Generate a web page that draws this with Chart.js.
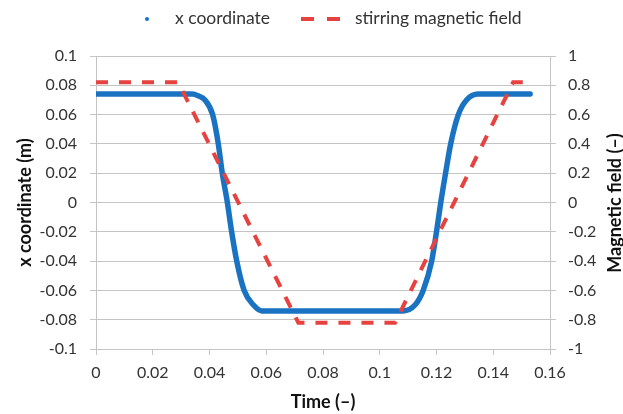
<!DOCTYPE html>
<html>
<head>
<meta charset="utf-8">
<script src="https://cdn.jsdelivr.net/npm/chart.js@4"></script>
<style>
  html, body { margin: 0; padding: 0; background: #fff; }
  #wrap { width: 623px; height: 414px; }
</style>
</head>
<body>
<div id="wrap"><canvas id="c" width="623" height="414"></canvas></div>
<script>
// ---- data ----
const seriesLabels = ['x coordinate', 'stirring magnetic field'];

// x coordinate (m) vs time
const posTime = [0, 0.034, 0.036, 0.0384, 0.0411, 0.0431, 0.0445, 0.0463, 0.0478, 0.0496, 0.0522, 0.0555, 0.0584,
                 0.1083, 0.1124, 0.1153, 0.1183, 0.1200, 0.1215, 0.1232, 0.1250, 0.1277, 0.1306, 0.1347, 0.153];
const posValue = [0.074, 0.074, 0.0728, 0.070, 0.060, 0.040, 0.020, 0.000, -0.020, -0.040, -0.060, -0.070, -0.074,
                  -0.074, -0.070, -0.060, -0.040, -0.020, 0.000, 0.020, 0.040, 0.060, 0.070, 0.074, 0.074];

// stirring magnetic field (-) vs time
const fieldTime = [0, 0.029, 0.0713, 0.1054, 0.147, 0.153];
const fieldValue = [0.82, 0.82, -0.82, -0.82, 0.82, 0.82];

// axis ranges / ticks
const xTicks = [0, 0.16, 0.02];
const yLeftTicks = [-0.1, 0.1, 0.02];
const yRightTicks = [-1, 1, 0.2];

const axisTitles = { x: 'Time (–)', yLeft: 'x coordinate (m)', yRight: 'Magnetic field (–)' };

const BLUE = '#1a73c2';
const RED = '#e6423f';
const TEXT = '#333333';
const GRID = '#c4c4c4';
const FONT = 'Lato, "Open Sans", sans-serif';

const toXY = (xs, ys) => xs.map((x, i) => ({ x: x, y: ys[i] }));

const legendPlugin = {
  id: 'customLegend',
  afterDraw(chart) {
    const ctx = chart.ctx;
    ctx.save();
    ctx.font = '17.5px ' + FONT;
    ctx.textBaseline = 'middle';
    ctx.textAlign = 'left';
    const y = 18;
    // blue dot
    ctx.beginPath();
    ctx.arc(147, y + 1, 2, 0, Math.PI * 2);
    ctx.fillStyle = BLUE;
    ctx.fill();
    ctx.fillStyle = TEXT;
    ctx.fillText(chart.data.datasets[0].label, 175, y);
    // red dashes
    ctx.strokeStyle = RED;
    ctx.lineWidth = 4;
    ctx.beginPath();
    ctx.moveTo(301, y + 1); ctx.lineTo(314, y + 1);
    ctx.moveTo(327, y + 1); ctx.lineTo(340, y + 1);
    ctx.stroke();
    ctx.fillText(chart.data.datasets[1].label, 355, y);
    // right axis title (reads bottom-to-top)
    ctx.translate(615, 203);
    ctx.rotate(-Math.PI / 2);
    ctx.font = 'bold 18px ' + FONT;
    ctx.textAlign = 'center';
    ctx.fillStyle = '#111';
    ctx.fillText(axisTitles.yRight, 0, 0);
    ctx.restore();
  }
};

const fmt = (d) => (v) => String(parseFloat(Number(v).toFixed(d)));

new Chart(document.getElementById('c'), {
  type: 'scatter',
  data: {
    datasets: [
      {
        label: seriesLabels[0],
        data: toXY(posTime, posValue),
        showLine: true,
        borderColor: BLUE,
        backgroundColor: BLUE,
        borderWidth: 5.5,
        pointRadius: 0,
        cubicInterpolationMode: 'monotone',
        borderCapStyle: 'round',
        borderJoinStyle: 'round',
        yAxisID: 'y',
        order: 1
      },
      {
        label: seriesLabels[1],
        data: toXY(fieldTime, fieldValue),
        showLine: true,
        borderColor: RED,
        backgroundColor: RED,
        borderWidth: 4,
        borderDash: [12, 11],
        pointRadius: 0,
        tension: 0,
        yAxisID: 'y1',
        order: 0
      }
    ]
  },
  options: {
    responsive: false,
    animation: false,
    layout: { padding: { top: 56, left: 0, right: 0, bottom: 0 } },
    plugins: {
      legend: { display: false },
      tooltip: { enabled: false }
    },
    scales: {
      x: {
        type: 'linear',
        position: 'bottom',
        min: xTicks[0], max: xTicks[1],
        ticks: { stepSize: xTicks[2], color: TEXT, font: { family: FONT, size: 16 }, padding: 8, callback: fmt(2), maxRotation: 0 },
        grid: { drawOnChartArea: false, drawTicks: true, tickLength: 6, color: GRID },
        border: { display: true, color: GRID },
        title: { display: true, text: axisTitles.x, color: '#111', font: { family: FONT, size: 18, weight: 'bold' }, padding: { top: 0, bottom: 1 } },
        afterFit(s) { s.height = 65; }
      },
      y: {
        type: 'linear',
        position: 'left',
        min: yLeftTicks[0], max: yLeftTicks[1],
        ticks: { stepSize: yLeftTicks[2], color: TEXT, font: { family: FONT, size: 16 }, padding: 13, callback: fmt(2) },
        grid: { color: GRID, tickLength: 6, drawTicks: true },
        border: { display: true, color: GRID },
        title: { display: true, text: axisTitles.yLeft, color: '#111', font: { family: FONT, size: 18, weight: 'bold' }, padding: { top: 14, bottom: 0 } },
        afterFit(s) { s.width = 96; }
      },
      y1: {
        type: 'linear',
        position: 'right',
        min: yRightTicks[0], max: yRightTicks[1],
        ticks: { stepSize: yRightTicks[2], color: TEXT, font: { family: FONT, size: 16 }, padding: 12, callback: fmt(1) },
        grid: { drawOnChartArea: false, tickLength: 6, drawTicks: true, color: GRID },
        border: { display: true, color: GRID },
        title: { display: false },
        afterFit(s) { s.width = 73; }
      }
    }
  },
  plugins: [legendPlugin]
});
</script>
</body>
</html>
